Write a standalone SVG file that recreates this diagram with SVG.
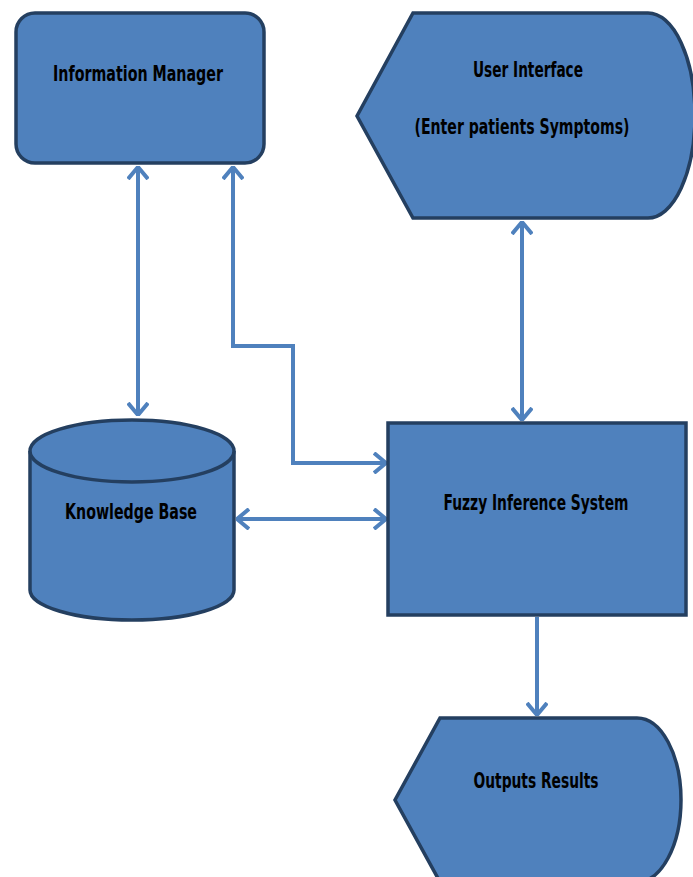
<svg xmlns="http://www.w3.org/2000/svg" width="693" height="877" viewBox="0 0 693 877">
<style>
.node{fill:#4F81BD;stroke:#243F60;stroke-width:3.5}
.lbl{font-family:"DejaVu Sans Condensed","Liberation Sans Narrow","Liberation Sans",sans-serif;font-weight:bold;font-size:22px;fill:#000;text-anchor:middle}
.conn{fill:none;stroke:#4F81BD;stroke-width:4}
</style>
<defs>
<marker id="ah" viewBox="0 0 14 22" refX="13" refY="11" markerWidth="14" markerHeight="22" markerUnits="userSpaceOnUse" orient="auto-start-reverse">
<path d="M1,1 L13,11 L1,21" fill="none" stroke="#4F81BD" stroke-width="4"/>
</marker>
</defs>
<rect width="693" height="877" fill="#fff"/>
<g id="connectors">
<path class="conn" d="M138,167 V415" marker-start="url(#ah)" marker-end="url(#ah)"/>
<path class="conn" d="M233,167 V346 H293 V463 H386" marker-start="url(#ah)" marker-end="url(#ah)"/>
<path class="conn" d="M522,222 V420" marker-start="url(#ah)" marker-end="url(#ah)"/>
<path class="conn" d="M237,519 H386" marker-start="url(#ah)" marker-end="url(#ah)"/>
<path class="conn" d="M537,617 V715" marker-end="url(#ah)"/>
</g>
<g id="information-manager">
<rect class="node" x="16" y="13" width="248" height="150" rx="19"/>
<text class="lbl" x="138" y="81" textLength="170" lengthAdjust="spacingAndGlyphs">Information  Manager</text>
</g>
<g id="user-interface">
<path class="node" d="M413,13 H648 A47,102.5 0 0 1 648,218 H413 L357,116 Z"/>
<text class="lbl" x="528" y="77" font-size="19" textLength="110" lengthAdjust="spacingAndGlyphs">User Interface</text>
<text class="lbl" x="522" y="134" font-size="19" textLength="215" lengthAdjust="spacingAndGlyphs">(Enter patients Symptoms)</text>
</g>
<g id="knowledge-base">
<path class="node" d="M30,451 V590 A102,30 0 0 0 234,590 V451 A102,31 0 0 0 30,451 Z"/>
<path class="node" fill="none" d="M30,451 A102,31 0 0 0 234,451"/>
<text class="lbl" x="131" y="519" font-size="20" textLength="132" lengthAdjust="spacingAndGlyphs">Knowledge Base</text>
</g>
<g id="fuzzy-inference-system">
<rect class="node" x="388" y="423" width="298" height="192"/>
<text class="lbl" x="536" y="510" font-size="21" textLength="185" lengthAdjust="spacingAndGlyphs">Fuzzy Inference System</text>
</g>
<g id="outputs-results">
<path class="node" d="M440,718 H637 A44,82 0 0 1 637,882 H440 L395,800 Z"/>
<text class="lbl" x="536" y="788" textLength="125" lengthAdjust="spacingAndGlyphs">Outputs Results</text>
</g>
</svg>
